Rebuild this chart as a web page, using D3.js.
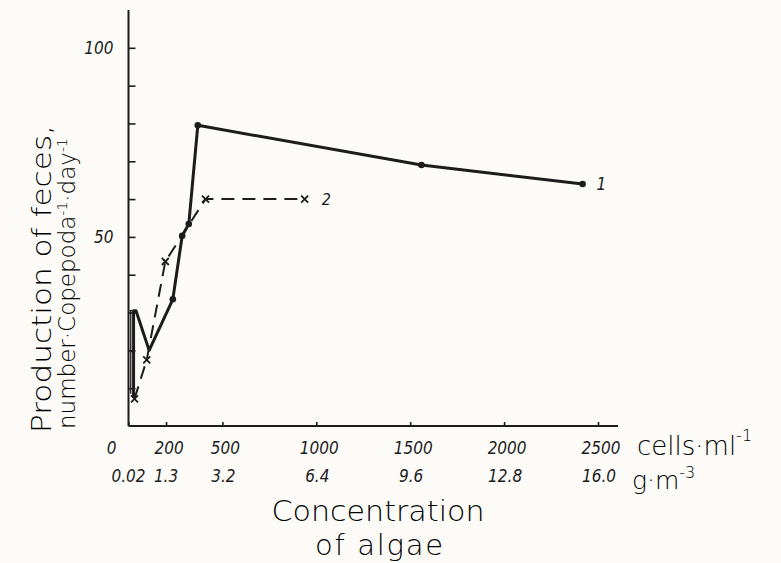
<!DOCTYPE html>
<html>
<head>
<meta charset="utf-8">
<script src="https://cdn.jsdelivr.net/npm/d3@7/dist/d3.min.js"></script>
<style>
  html, body { margin: 0; padding: 0; background: #fcfbf8; }
  svg { display: block; }
  .hand { font-family: "DejaVu Sans", "Open Sans", sans-serif; font-weight: 200; fill: #000; }
  .num { font-family: "DejaVu Sans", sans-serif; font-style: italic; font-stretch: condensed; fill: #1c1c1c; }
</style>
</head>
<body>
<svg id="chart" width="781" height="563"></svg>
<script>
// Concentration of algae, cells per ml, and the matching biomass scale
const cellTicks = [0, 200, 500, 1000, 1500, 2000, 2500];
const massTickLabels = ["0.02", "1.3", "3.2", "6.4", "9.6", "12.8", "16.0"];
const yTicks = [10, 20, 30, 40, 50, 60, 70, 80, 90, 100];
const yTickLabels = [50, 100];

// Curve 1: faecal pellet production (solid line)
const s1Cells  = [27, 27, 40, 110, 236, 286, 321, 369, 1560, 2418];
const s1Values = [7.5, 30.5, 30.5, 20, 33.5, 50.3, 53.4, 79.5, 69, 64];
const s1Marked = [false, false, false, false, true, true, true, true, true, true];

// Short vertical range drawn at the lowest concentration
const rangeCells  = [12, 12];
const rangeValues = [8.5, 30.5];
const rangeBarCells = [12, 27];
const rangeBarValue = 19.7;

// Curve 2 (dashed line, x markers)
const s2Cells  = [32, 97, 196, 410, 938];
const s2Values = [7.2, 17.5, 43.5, 60, 60];

const ink = "#1c1c1c";
const svg = d3.select("#chart");

const x = d3.scaleLinear().domain([0, 2500]).range([128.5, 598]);
const y = d3.scaleLinear().domain([0, 110]).range([426, 10]);

// Axes
const gx = svg.append("g").attr("transform", `translate(0,${y(0)})`)
  .call(d3.axisBottom(x).tickValues(cellTicks).tickSize(-4).tickFormat(""));
gx.select(".domain").attr("d", `M${x(0)},0H${x(2607)}`);
const gy = svg.append("g").attr("transform", `translate(${x(0)},0)`)
  .call(d3.axisLeft(y).tickValues(yTicks).tickSize(-7).tickFormat(""));
gy.select(".domain").attr("d", `M0,${y(110)}V${y(0)}`);
svg.selectAll(".domain").attr("stroke", ink).attr("stroke-width", 2);
svg.selectAll(".tick line").attr("stroke", ink).attr("stroke-width", 1.6);

// Y tick labels
svg.append("g").selectAll("text").data(yTickLabels).join("text")
  .attr("class", "num")
  .attr("x", x(0) - 15).attr("y", d => y(d) + 6)
  .attr("text-anchor", "end").attr("font-size", 17)
  .text(d => d);

// X tick labels: cells per ml
svg.append("g").selectAll("text").data(cellTicks).join("text")
  .attr("class", "num")
  .attr("x", d => d === 0 ? x(d) - 17 : x(d) + 3)
  .attr("y", 454)
  .attr("text-anchor", "middle").attr("font-size", 17)
  .text(d => d);

// X tick labels: grams per cubic metre
svg.append("g").selectAll("text").data(massTickLabels).join("text")
  .attr("class", "num")
  .attr("x", (d, i) => x(cellTicks[i]) + (i < 2 ? 0 : 1))
  .attr("y", 482)
  .attr("text-anchor", "middle").attr("font-size", 17)
  .text(d => d);

// Unit labels beside the x axis
const u1 = svg.append("text").attr("class", "hand").attr("x", 637).attr("y", 455).attr("font-size", 26);
u1.append("tspan").text("cells·ml");
u1.append("tspan").attr("font-size", 16).attr("dy", -14).text("-1");
const u2 = svg.append("text").attr("class", "hand").attr("x", 632).attr("y", 489).attr("font-size", 25);
u2.append("tspan").text("g·m");
u2.append("tspan").attr("font-size", 16).attr("dy", -11).text("-3");

// X axis title
svg.append("text").attr("class", "hand").attr("x", 378).attr("y", 521)
  .attr("text-anchor", "middle").attr("font-size", 29)
  .attr("textLength", 213).attr("lengthAdjust", "spacingAndGlyphs")
  .text("Concentration");
svg.append("text").attr("class", "hand").attr("x", 379).attr("y", 555)
  .attr("text-anchor", "middle").attr("font-size", 29)
  .attr("textLength", 128).attr("lengthAdjust", "spacing")
  .text("of algae");

// Y axis title
const yt = svg.append("g").attr("transform", "translate(51,433) rotate(-90)");
yt.append("text").attr("class", "hand").attr("x", 0).attr("y", 0)
  .attr("font-size", 27).attr("textLength", 308).attr("lengthAdjust", "spacingAndGlyphs")
  .text("Production of feces,");
const yt2 = yt.append("text").attr("class", "hand").attr("x", 4).attr("y", 24).attr("font-size", 23);
yt2.append("tspan").text("number·Copepoda");
yt2.append("tspan").attr("font-size", 14).attr("dy", -8).text("-1");
yt2.append("tspan").attr("dy", 8).text("·day");
yt2.append("tspan").attr("font-size", 14).attr("dy", -8).text("-1");

// Low-concentration range
svg.append("path")
  .attr("d", `M${x(rangeCells[0])},${y(rangeValues[0])}V${y(rangeValues[1])}` +
             `M${x(rangeBarCells[0])},${y(rangeBarValue)}H${x(rangeBarCells[1])}` +
             `M${x(rangeCells[0]) - 1},${y(rangeValues[1])}H${x(rangeBarCells[1])}`)
  .attr("stroke", ink).attr("stroke-width", 1.3).attr("fill", "none");

// Curve 2
const s2 = s2Cells.map((c, i) => [c, s2Values[i]]);
const line = d3.line().x(d => x(d[0])).y(d => y(d[1]));
svg.append("path").datum(s2).attr("d", line)
  .attr("fill", "none").attr("stroke", ink).attr("stroke-width", 2)
  .attr("stroke-dasharray", "13,8");
svg.append("g").selectAll("path").data(s2).join("path")
  .attr("d", d => { const cx = x(d[0]), cy = y(d[1]), r = 3.5;
    return `M${cx - r},${cy - r}L${cx + r},${cy + r}M${cx - r},${cy + r}L${cx + r},${cy - r}`; })
  .attr("stroke", ink).attr("stroke-width", 1.8);

// Curve 1
const s1 = s1Cells.map((c, i) => [c, s1Values[i]]);
svg.append("path").datum(s1).attr("d", line)
  .attr("fill", "none").attr("stroke", ink).attr("stroke-width", 3)
  .attr("stroke-linejoin", "round");
svg.append("g").selectAll("circle").data(s1.filter((d, i) => s1Marked[i])).join("circle")
  .attr("cx", d => x(d[0])).attr("cy", d => y(d[1])).attr("r", 3.3).attr("fill", ink);

// Curve labels
svg.append("text").attr("class", "num").attr("font-size", 17)
  .attr("x", x(s1Cells[s1Cells.length - 1]) + 14).attr("y", y(s1Values[s1Values.length - 1]) + 6)
  .text("1");
svg.append("text").attr("class", "num").attr("font-size", 16)
  .attr("x", x(s2Cells[s2Cells.length - 1]) + 17).attr("y", y(s2Values[s2Values.length - 1]) + 6)
  .text("2");
</script>
</body>
</html>
